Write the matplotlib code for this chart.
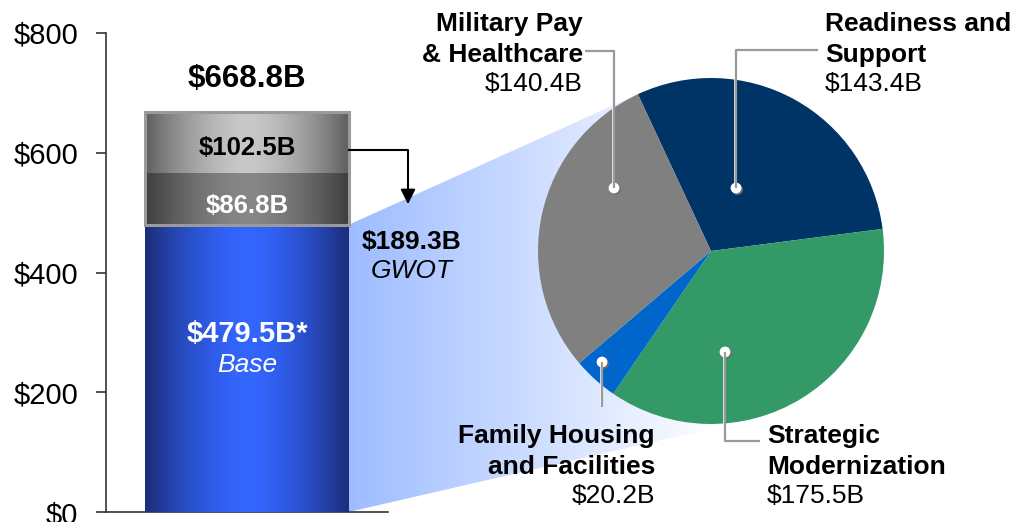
import numpy as np
import matplotlib
matplotlib.use('Agg')
import matplotlib.pyplot as plt
from matplotlib.patches import Polygon, Rectangle, Circle

W, H = 1026, 522

# bar data ($B)
seg_names = ['Base', 'GWOT 1', 'GWOT 2']
seg_values = [479.5, 86.8, 102.5]
seg_labels = ['$479.5B*', '$86.8B', '$102.5B']
total_label = '$668.8B'
gwot_label = '$189.3B'
yticks = [0, 200, 400, 600, 800]
ytick_labels = ['$0', '$200', '$400', '$600', '$800']

# pie data (split of the base budget)
pie_names = ['Readiness and\nSupport', 'Strategic\nModernization',
             'Family Housing\nand Facilities', 'Military Pay\n& Healthcare']
pie_values = [143.4, 175.5, 20.2, 140.4]
pie_value_labels = ['$143.4B', '$175.5B', '$20.2B', '$140.4B']
pie_colors = ['#003366', '#339966', '#0066cc', '#808080']

plt.rcParams['font.family'] = ['Liberation Sans', 'DejaVu Sans']

fig = plt.figure(figsize=(W / 100, H / 100), dpi=100)

back = fig.add_axes([0, 0, 1, 1], zorder=0)
ax = fig.add_axes([106 / W, 10 / H, 282 / W, 479 / H], zorder=2)
pax = fig.add_axes([538 / W, (H - 251 - 173) / H, 346 / W, 346 / H], zorder=3)
front = fig.add_axes([0, 0, 1, 1], zorder=5)
for a in (back, front):
    a.set_xlim(0, W)
    a.set_ylim(H, 0)
    a.axis('off')
    a.patch.set_visible(False)

# ---- stacked bar ----
ax.patch.set_visible(False)
bottoms = np.concatenate([[0], np.cumsum(seg_values)[:-1]])
bars = ax.bar([0.5] * 3, seg_values, bottom=bottoms, width=0.72,
              color=['#3366ff', '#606060', '#a0a0a0'], zorder=2)

grads = [((28, 45, 120), (51, 102, 255)),
         ((62, 62, 62), (135, 135, 135)),
         ((95, 95, 95), (200, 200, 200))]
t = np.linspace(-1, 1, 200)
wgt = 1 - np.abs(t) ** 1.6
for bar, (edge, center) in zip(bars, grads):
    edge = np.array(edge, float)
    center = np.array(center, float)
    rgb = (edge + (center - edge) * wgt[:, None]) / 255
    x0, y0 = bar.get_x(), bar.get_y()
    im = ax.imshow(rgb[None, :, :], extent=(x0, x0 + bar.get_width(), y0, y0 + bar.get_height()),
                   aspect='auto', zorder=3, interpolation='bilinear')
    im.set_clip_path(bar)

# frame round the GWOT part
ax.add_patch(Rectangle((bars[1].get_x(), bottoms[1]), bars[1].get_width(),
                       seg_values[1] + seg_values[2], fill=False, ec='#9a9a9a', lw=2.2, zorder=4))

ax.set_xlim(0, 1)
ax.set_ylim(0, 800)
ax.spines['top'].set_visible(False)
ax.spines['right'].set_visible(False)
for s in ('left', 'bottom'):
    ax.spines[s].set_color('#333333')
    ax.spines[s].set_linewidth(1.2)
ax.set_xticks([])
ax.set_yticks(yticks, ytick_labels)
ax.tick_params(axis='y', length=7, width=1.2, color='#333333', pad=13, labelsize=21)

ax.text(0.5, 596, seg_labels[2], ha='center', va='baseline', fontsize=18.5, fontweight='bold', zorder=5)
ax.text(0.5, 499, seg_labels[1], ha='center', va='baseline', fontsize=18.5, fontweight='bold',
        color='white', zorder=5)
ax.text(0.5, 284, seg_labels[0], ha='center', va='baseline', fontsize=21, fontweight='bold',
        color='white', zorder=5)
ax.text(0.5, 234, seg_names[0], ha='center', va='baseline', fontsize=19, style='italic',
        color='white', zorder=5)
ax.text(0.5, 710, total_label, ha='center', va='baseline', fontsize=22.5, fontweight='bold')

# ---- pie ----
pax.pie(pie_values, colors=pie_colors, startangle=115, counterclock=False, radius=1,
        wedgeprops=dict(linewidth=0))
pax.set_xlim(-1, 1)
pax.set_ylim(-1, 1)

# ---- light blue funnel from bar to pie ----
def to_px(trans, xy):
    dx, dy = trans.transform(xy)
    return np.array([dx, H - dy])

bx = bars[0].get_x() + bars[0].get_width()
p1 = to_px(ax.transData, (bx, seg_values[0]))
p2 = to_px(ax.transData, (bx, 0))
c = to_px(pax.transData, (0, 0))
r = to_px(pax.transData, (1, 0))[0] - c[0]


def tangent(p, upper):
    v = p - c
    d = np.hypot(*v)
    th = np.arccos(r / d)
    base = np.arctan2(v[1], v[0])
    pts = [c + r * np.array([np.cos(base + s * th), np.sin(base + s * th)]) for s in (1, -1)]
    return min(pts, key=lambda q: q[1]) if upper else max(pts, key=lambda q: q[1])


funnel = Polygon([p1, tangent(p1, True), c, tangent(p2, False), p2], closed=True,
                 fc='none', ec='none')
back.add_patch(funnel)
g = np.linspace(0, 1, 256)[:, None]
left = np.array([157, 188, 255]) / 255
fun_rgb = left + (1 - left) * g
im = back.imshow(fun_rgb[None, :, :], extent=(p1[0], 720, H, 0), aspect='auto',
                 interpolation='bilinear', zorder=1)
im.set_clip_path(funnel)
back.set_xlim(0, W)
back.set_ylim(H, 0)

# ---- GWOT arrow ----
front.plot([p1[0], 408, 408], [150, 150, 192], color='black', lw=1.5)
front.annotate('', xy=(408, 207), xytext=(408, 188),
               arrowprops=dict(arrowstyle='-|>', color='black', lw=1.5, mutation_scale=22))
front.text(412, 249, gwot_label, ha='center', va='baseline', fontsize=19, fontweight='bold')
front.text(412, 278, 'GWOT', ha='center', va='baseline', fontsize=19, style='italic')

# ---- pie labels with leader lines ----
leaders = [
    [(736, 188), (736, 50), (818, 50)],
    [(725, 352), (725, 441), (760, 441)],
    [(602, 362), (602, 407)],
    [(614, 188), (614, 51), (585, 51)],
]
label_pos = [(825, 31, 'left'), (767, 443, 'left'), (655, 443, 'right'), (583, 31, 'right')]

for path, (lx, ly, ha), name, val in zip(leaders, label_pos, pie_names, pie_value_labels):
    xs = np.array([q[0] for q in path], float)
    ys = np.array([q[1] for q in path], float)
    front.plot(xs - 1.5, ys - 1.5, color='white', lw=1.2, solid_capstyle='butt')
    front.plot(xs, ys, color='#9a9a9a', lw=1.6, solid_capstyle='butt')
    front.add_patch(Circle((xs[0] + 1.5, ys[0] + 1.5), 5.4, color='#6e6e6e', lw=0))
    front.add_patch(Circle((xs[0], ys[0]), 5.4, color='white', lw=0))
    for i, line in enumerate(name.split('\n')):
        front.text(lx, ly + 31 * i, line, ha=ha, va='baseline', fontsize=19, fontweight='bold')
    front.text(lx, ly + 60, val, ha=ha, va='baseline', fontsize=19)

fig.savefig('out.png', dpi=100)
